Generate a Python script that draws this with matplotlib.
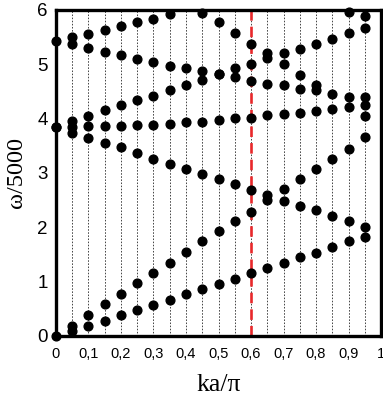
import matplotlib.pyplot as plt
from matplotlib.ticker import FixedLocator

# wave number positions (ka/pi) of the computed points
k_all = [0, 0.05, 0.1, 0.15, 0.2, 0.25, 0.3, 0.35, 0.4, 0.45,
         0.5, 0.55, 0.6, 0.65, 0.7, 0.75, 0.8, 0.85, 0.9, 0.95]
k_from05 = k_all[1:]

# omega/5000, branch by branch
band1 = [0, 0.09, 0.19, 0.28, 0.39, 0.48, 0.57, 0.67, 0.77, 0.86,
         0.96, 1.05, 1.16, 1.25, 1.35, 1.45, 1.52, 1.63, 1.74, 1.83]
band2 = [0.19, 0.39, 0.58, 0.77, 0.97, 1.15, 1.35, 1.54, 1.74,
         1.93, 2.12, 2.29, 2.50, 2.70, 2.88, 3.08, 3.26, 3.44, 3.66]
band3 = [3.85, 3.74, 3.65, 3.56, 3.47, 3.37, 3.25, 3.17, 3.07, 2.98,
         2.89, 2.79, 2.69, 2.60, 2.49, 2.40, 2.31, 2.21, 2.12, 2.01]
band4 = [3.85, 3.85, 3.86, 3.86, 3.87, 3.88, 3.89, 3.90, 3.93, 3.93,
         3.98, 4.01, 4.02, 4.06, 4.09, 4.11, 4.14, 4.18, 4.21, 4.25]
band5 = [3.96, 4.05, 4.15, 4.25, 4.34, 4.42, 4.53, 4.61, 4.71,
         4.82, 4.93, 5.00, 5.11, 5.20, 5.28, 5.38, 5.47, 5.57, 5.67]
band6 = [5.37, 5.30, 5.22, 5.18, 5.10, 5.04, 4.97, 4.93, 4.88,
         4.82, 4.76, 4.70, 4.63, 4.61, 4.54, 4.52, 4.45, 4.40, 4.39]
k_band7 = [0, 0.05, 0.1, 0.15, 0.2, 0.25, 0.3, 0.35]
band7 = [5.42, 5.51, 5.56, 5.63, 5.70, 5.77, 5.84, 5.93]
k_band8 = [0.45, 0.5, 0.55, 0.6, 0.65, 0.7, 0.75, 0.8]
band8 = [5.95, 5.77, 5.57, 5.38, 5.20, 5.00, 4.81, 4.61]
k_extra = [0.9, 0.95, 0.95]
w_extra = [5.97, 5.88, 4.04]

k_marked = 0.6
xtick_vals = [0, 0.1, 0.2, 0.3, 0.4, 0.5, 0.6, 0.7, 0.8, 0.9, 1.0]
xtick_text = ['0', '0,1', '0,2', '0,3', '0,4', '0,5', '0,6', '0,7', '0,8', '0,9', '1']
grid_vals = [0.05 * i for i in range(1, 20)]

plt.rcParams['font.family'] = ['Liberation Sans', 'DejaVu Sans']
serif = ['Liberation Serif', 'DejaVu Serif']

fig = plt.figure(figsize=(3.83, 3.99), dpi=100)
ax = fig.add_axes([0.146, 0.158, 0.849, 0.817])

for g in grid_vals:
    ax.axvline(g, color='#444444', lw=0.7, ls=(0, (1.6, 1.6)), zorder=1)

ax.axvline(k_marked, color='#e8282b', lw=1.9, ls=(0, (4, 2.3)), zorder=2)

series = [(k_all, band1), (k_from05, band2), (k_all, band3), (k_all, band4),
          (k_from05, band5), (k_from05, band6), (k_band7, band7),
          (k_band8, band8), (k_extra, w_extra)]
for xs, ys in series:
    ax.plot(xs, ys, 'o', color='black', ms=6.3, ls='none', clip_on=False, zorder=3)

ax.set_xlim(0, 1)
ax.set_ylim(0, 6)
ax.xaxis.set_major_locator(FixedLocator(xtick_vals))
ax.set_xticklabels(xtick_text, fontsize=10.5)
ax.set_yticks([0, 1, 2, 3, 4, 5, 6])
ax.tick_params(axis='y', length=0, pad=6, labelsize=13.5)
ax.tick_params(axis='x', length=0, pad=8)

for s in ax.spines.values():
    s.set_linewidth(2.4)

ax.set_xlabel('ka/π', family=serif, fontsize=18.5, labelpad=9)
ax.set_ylabel('ω/5000', family=serif, fontsize=17.5, labelpad=7)

fig.savefig('out.png', dpi=100)
